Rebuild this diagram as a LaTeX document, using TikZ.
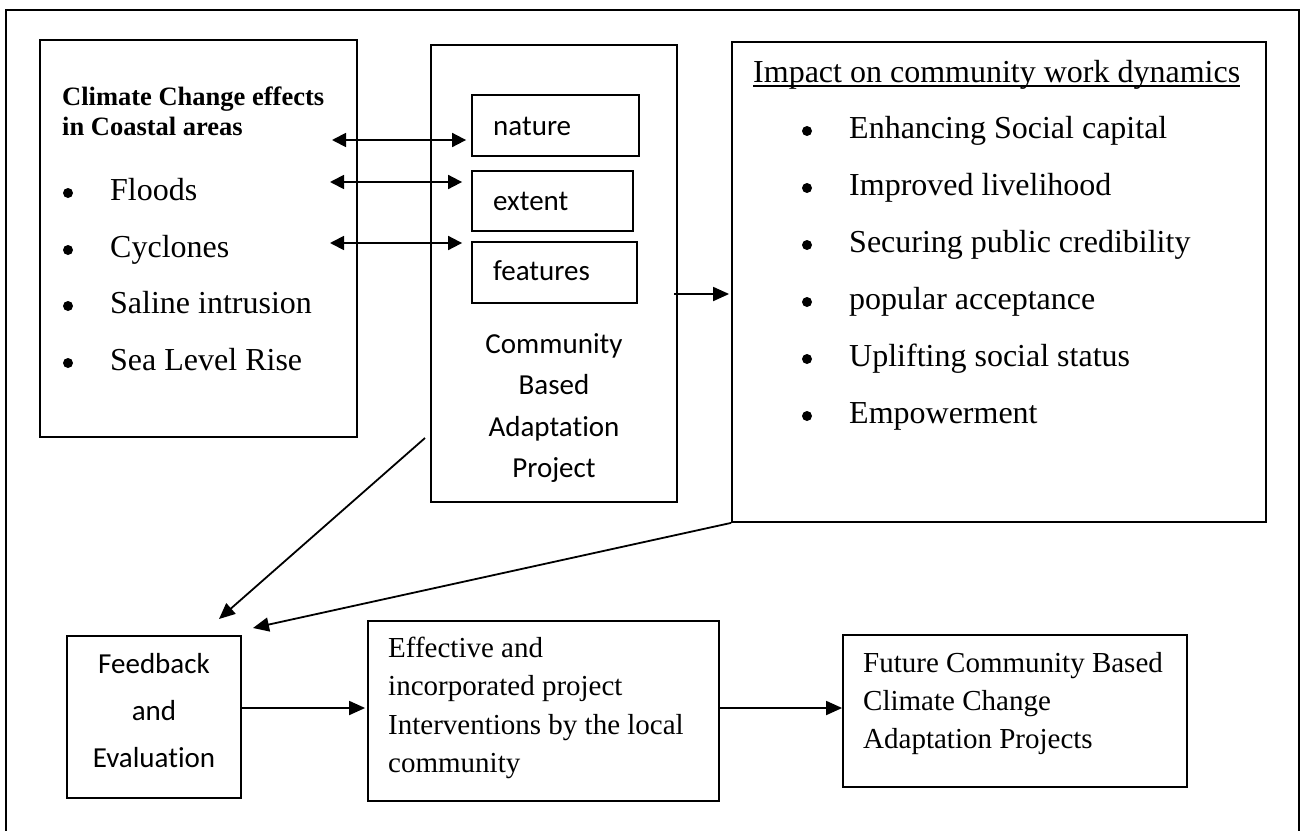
\documentclass[tikz,border=0pt]{standalone}
\usepackage{fontspec}
\setmainfont{Liberation Serif}
\newfontfamily\calibfont[Ligatures=NoCommon]{Carlito}
\usetikzlibrary{arrows.meta,fit}

\begin{document}
\begin{tikzpicture}[x=1pt,y=-1pt,
  box/.style={draw, line width=1.8pt, inner sep=0pt},
  txt/.style={inner sep=0pt, anchor=base west},
  ctxt/.style={inner sep=0pt, anchor=base},
  big/.style={font=\fontsize{32}{38}\selectfont},
  mid/.style={font=\fontsize{29}{35}\selectfont},
  cal/.style={font=\calibfont\fontsize{29}{35}\selectfont},
  head/.style={font=\bfseries\fontsize{26.5}{32}\selectfont},
  arr/.style={-{Triangle[length=16pt,width=14pt]}, line width=1.8pt},
  darr/.style={{Triangle[length=14pt,width=14pt]}-{Triangle[length=14pt,width=14pt]}, line width=1.8pt}
]
\useasboundingbox (0,0) rectangle (1301,830);

% outer frame (runs past the lower edge)
\node[box, fit={(6,10) (1299,850)}] (frame) {};

% ---------- boxes ----------
\node[box, fit={(40,40) (357,437)}] (effects) {};
\node[box, fit={(431,45) (677,502)}] (cba) {};
\node[box, fit={(472,95) (639,156)}] (nature) {};
\node[box, fit={(472,171) (633,231)}] (extent) {};
\node[box, fit={(472,242) (637,303)}] (features) {};
\node[box, fit={(732,42) (1266,522)}] (impact) {};
\node[box, fit={(67,636) (241,798)}] (feedback) {};
\node[box, fit={(368,621) (719,801)}] (effective) {};
\node[box, fit={(843,635) (1187,787)}] (future) {};

% ---------- climate change effects ----------
\node[txt,head] (cch1) at (62,105) {Climate Change effects};
\node[txt,head] (cch2) at (62,135) {in Coastal areas};
\foreach \t/\y [count=\i] in {Floods/200, Cyclones/257, Saline intrusion/313, Sea Level Rise/370}{
  \fill (68,{\y-7}) circle (5pt);
  \node[txt,big] (cc\i) at (110,\y) {\t};
}

% ---------- community based adaptation project ----------
\node[txt,cal] (tnature) at (493,135) {nature};
\node[txt,cal] (textent) at (493,210) {extent};
\node[txt,cal] (tfeatures) at (493,280) {features};
\node[ctxt,cal] (cb1) at (554,353) {Community};
\node[ctxt,cal] (cb2) at (554,394) {Based};
\node[ctxt,cal] (cb3) at (554,436) {Adaptation};
\node[ctxt,cal] (cb4) at (554,477) {Project};

% ---------- impact ----------
\node[txt,big] (imptitle) at (753,82) {Impact on community work dynamics};
\draw[line width=1.5pt] ([yshift=-4pt]imptitle.base west) -- ([yshift=-4pt]imptitle.base east);
\foreach \t/\y [count=\i] in {Enhancing Social capital/138, Improved livelihood/195,
  Securing public credibility/252, popular acceptance/309, Uplifting social status/366, Empowerment/423}{
  \fill (807,{\y-7}) circle (5pt);
  \node[txt,big] (im\i) at (849,\y) {\t};
}

% ---------- bottom row ----------
\node[ctxt,cal] (fb1) at (154,673) {Feedback};
\node[ctxt,cal] (fb2) at (154,720) {and};
\node[ctxt,cal] (fb3) at (154,767) {Evaluation};

\node[txt,mid] (ef1) at (388,657) {Effective and};
\node[txt,mid] (ef2) at (388,695) {incorporated project};
\node[txt,mid] (ef3) at (388,734) {Interventions by the local};
\node[txt,mid] (ef4) at (388,772) {community};

\node[txt,mid] (fu1) at (863,672) {Future Community Based};
\node[txt,mid] (fu2) at (863,710) {Climate Change};
\node[txt,mid] (fu3) at (863,748) {Adaptation Projects};

% ---------- connectors ----------
\coordinate (l1) at (332,140);
\coordinate (l2) at (330,182);
\coordinate (l3) at (330,243);
\draw[darr, shorten >=5pt] (l1) -- (l1 -| nature.west);
\draw[darr, shorten >=9pt] (l2) -- (l2 -| extent.west);
\draw[darr, shorten >=9pt] (l3) -- (l3 -| features.west);

\coordinate (m1) at (674,294);
\draw[arr, shorten >=2pt] (m1) -- (m1 -| impact.west);

\coordinate (d1s) at (425,438);
\coordinate (d1e) at (219,619);
\draw[arr] (d1s) -- (d1e);
\coordinate (d2e) at (253,628);
\draw[arr] (impact.south west) -- (d2e);

\draw[arr, shorten >=2pt] ([yshift=9pt]feedback.east) -- ([yshift=9pt]feedback.east -| effective.west);
\draw[arr] ([yshift=3pt]effective.east) -- ([yshift=3pt]effective.east -| future.west);
\end{tikzpicture}
\end{document}
